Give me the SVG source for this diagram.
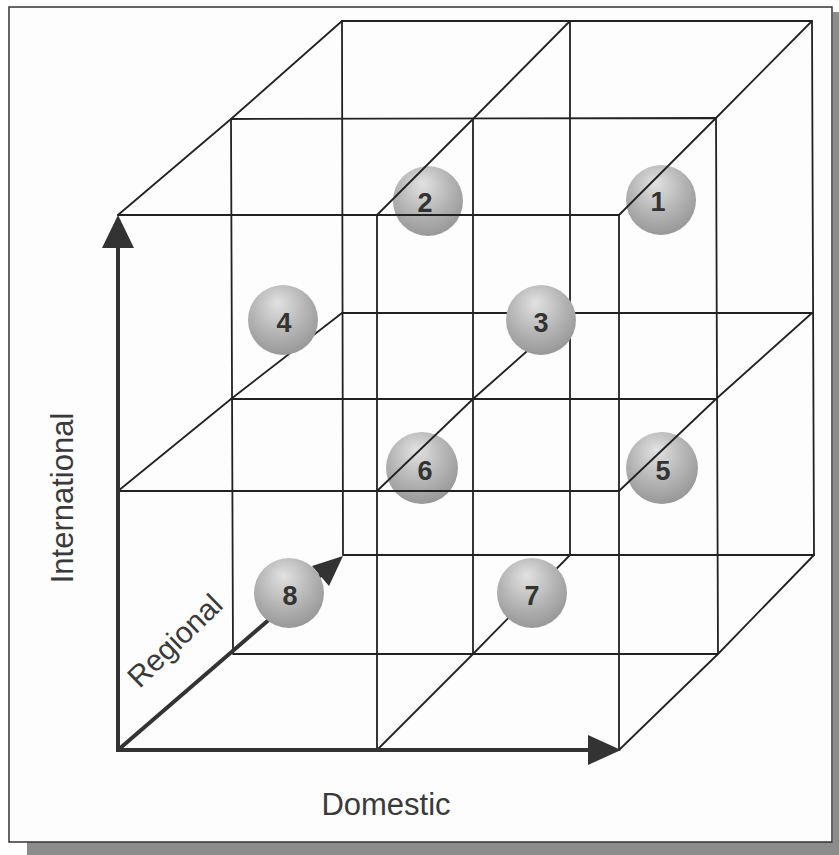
<svg xmlns="http://www.w3.org/2000/svg" width="839" height="855" viewBox="0 0 839 855">
<style>
.grid{stroke:#222;stroke-width:1.8;fill:none;stroke-linecap:round}
.axis{stroke:#333;stroke-width:4;fill:none}
.head{fill:#333;stroke:none}
.ball{fill:url(#ballGrad)}
.num{font-family:"Liberation Sans",Arial,sans-serif;font-size:27px;font-weight:bold;fill:#333;text-anchor:middle}
.lbl{font-family:"Liberation Sans",Arial,sans-serif;font-size:31px;fill:#3a3a3a;text-anchor:middle}
</style>
<defs>
<radialGradient id="ballGrad" cx="45%" cy="35%" r="65%" fx="42%" fy="25%">
<stop offset="0%" stop-color="#e2e2e2"/>
<stop offset="60%" stop-color="#b4b4b4"/>
<stop offset="100%" stop-color="#989898"/>
</radialGradient>
</defs>
<rect x="0" y="0" width="839" height="855" fill="#fff"/>
<g id="frame">
<rect x="27" y="842" width="812" height="13" fill="#8c8c8c"/>
<rect x="833" y="12" width="6" height="843" fill="#8c8c8c"/>
<rect x="9" y="7" width="823" height="835" fill="#fdfdfd" stroke="#333" stroke-width="1.5"/>
</g>
<g id="node-1"><circle class="ball" cx="661" cy="200" r="35"/><text class="num" x="658" y="211">1</text></g>
<g id="node-2"><circle class="ball" cx="428" cy="201" r="35"/><text class="num" x="425" y="212">2</text></g>
<g id="node-5"><circle class="ball" cx="662" cy="468" r="36"/><text class="num" x="663" y="480">5</text></g>
<g id="node-6"><circle class="ball" cx="422" cy="468" r="36"/><text class="num" x="425" y="480">6</text></g>
<g id="connectors">
<path class="grid" d="M342,21H812M342,313H812M343,555H814M342,21L343,555M570,21V555M812,21L814,555"/>
<path class="grid" d="M231,119L716,118M231,399H716M233,654H718M231,119L233,654M473,119V654M716,118L718,654"/>
<path class="grid" d="M118,215H619M118,491H619M377,215V750M619,215V750"/>
<path class="grid" d="M118,215L231,119L342,21M377,215L473,119L570,21M619,215L716,118L812,21"/>
<path class="grid" d="M118,491L231,399L342,313M377,491L473,399L570,313M619,491L716,399L812,313"/>
<path class="grid" d="M377,750L473,654L570,555M619,750L718,654L814,555"/>
<g id="axis-international"><path class="axis" d="M118,752V244"/><polygon class="head" points="118,215 102,248 134,248"/></g>
<g id="axis-domestic"><path class="axis" d="M116,750H592"/><polygon class="head" points="621,750 588,735 588,765"/></g>
<g id="axis-regional"><path class="axis" d="M118,750L322,574"/><polygon class="head" points="343,556 329,586 312,566"/></g>
</g>
<g id="node-4"><circle class="ball" cx="283" cy="320" r="35"/><text class="num" x="284" y="332">4</text></g>
<g id="node-3"><circle class="ball" cx="541" cy="320" r="35"/><text class="num" x="541" y="332">3</text></g>
<g id="node-7"><circle class="ball" cx="532" cy="593" r="35"/><text class="num" x="532" y="605">7</text></g>
<g id="node-8"><circle class="ball" cx="289" cy="593" r="35"/><text class="num" x="290" y="605">8</text></g>
<text class="lbl" x="386" y="815">Domestic</text>
<text class="lbl" transform="translate(73,498) rotate(-90)">International</text>
<text class="lbl" transform="translate(182,648) rotate(-44)" style="font-size:30px">Regional</text>
</svg>
